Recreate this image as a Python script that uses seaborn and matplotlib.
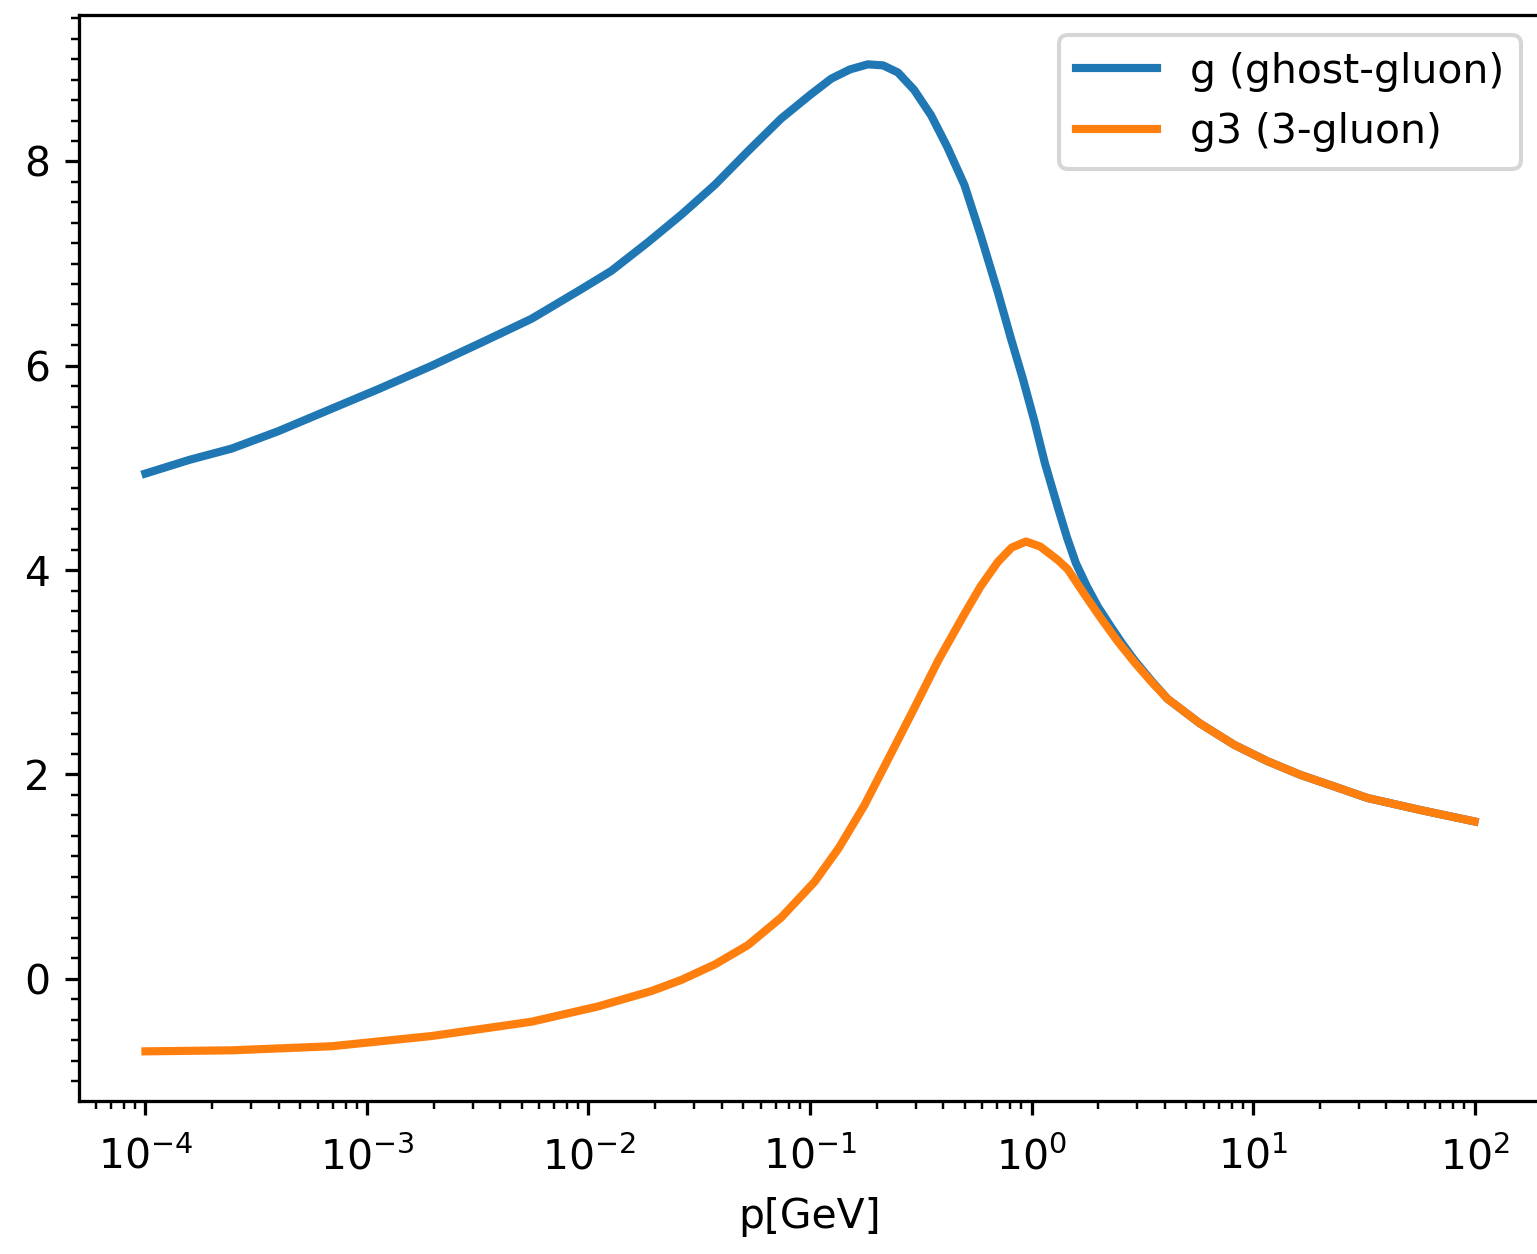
import numpy as np
import pandas as pd
import matplotlib
matplotlib.use("Agg")
import matplotlib.pyplot as plt
from matplotlib.ticker import AutoMinorLocator
import seaborn as sns

# ---- data (p in GeV, given as log10 exponents) ----
log_p_ghost = [-4.0, -3.8, -3.61, -3.4, -3.159, -2.95, -2.708, -2.5, -2.257, -2.032,
               -1.896, -1.731, -1.58, -1.43, -1.28, -1.13, -1.0, -0.904, -0.82, -0.739,
               -0.67, -0.603, -0.53, -0.453, -0.38, -0.303, -0.23, -0.152, -0.092, -0.04,
               0.014, 0.06, 0.118, 0.16, 0.2, 0.25, 0.30, 0.36, 0.41, 0.464,
               0.54, 0.614, 0.76, 0.915, 1.065, 1.215, 1.37, 1.516, 1.76, 2.0]
g_ghost = [4.945, 5.08, 5.19, 5.36, 5.58, 5.77, 6.00, 6.21, 6.46, 6.75,
           6.93, 7.21, 7.48, 7.77, 8.10, 8.42, 8.65, 8.81, 8.90, 8.95,
           8.94, 8.87, 8.70, 8.45, 8.14, 7.77, 7.28, 6.72, 6.26, 5.88,
           5.45, 5.05, 4.62, 4.32, 4.07, 3.84, 3.64, 3.44, 3.28, 3.12,
           2.92, 2.74, 2.50, 2.29, 2.13, 1.995, 1.88, 1.77, 1.65, 1.54]

log_p_3g = [-4.0, -3.61, -3.159, -2.708, -2.257, -1.956, -1.716, -1.58, -1.43, -1.28,
            -1.13, -0.979, -0.87, -0.754, -0.64, -0.529, -0.42, -0.303, -0.23, -0.152,
            -0.09, -0.025, 0.04, 0.118, 0.163, 0.24, 0.313, 0.39, 0.464, 0.54,
            0.614, 0.76, 0.915, 1.065, 1.215, 1.37, 1.516, 1.76, 2.0]
g_3g = [-0.71, -0.70, -0.66, -0.56, -0.42, -0.27, -0.12, -0.01, 0.14, 0.33,
        0.60, 0.95, 1.28, 1.70, 2.18, 2.65, 3.12, 3.57, 3.84, 4.08,
        4.22, 4.28, 4.23, 4.10, 4.01, 3.76, 3.53, 3.30, 3.10, 2.91,
        2.74, 2.50, 2.29, 2.13, 1.995, 1.88, 1.77, 1.65, 1.54]

labels = ["g (ghost-gluon)", "g3 (3-gluon)"]
colors = ["#1f77b4", "#ff7f0e"]

W, H, DPI = 1537, 1254, 294
fig = plt.figure(figsize=(W / DPI, H / DPI), dpi=DPI)
ax = fig.add_axes([79 / W, (H - 1100.7) / H, 1462 / W, 1085.7 / H])

df1 = pd.DataFrame({"p": 10.0 ** np.array(log_p_ghost), "g": g_ghost})
df2 = pd.DataFrame({"p": 10.0 ** np.array(log_p_3g), "g": g_3g})
sns.lineplot(data=df1, x="p", y="g", ax=ax, color=colors[0], lw=2, label=labels[0], sort=False)
sns.lineplot(data=df2, x="p", y="g", ax=ax, color=colors[1], lw=2, label=labels[1], sort=False)

ax.set_xscale("log")
ax.margins(x=0.05, y=0.05)
ax.set_xlabel("p[GeV]", labelpad=4.5)
ax.set_ylabel("")
ax.set_yticks([0, 2, 4, 6, 8])
ax.yaxis.set_minor_locator(AutoMinorLocator(10))
ax.tick_params(axis="x", which="major", pad=5.5)
ax.legend(loc="upper right")

fig.savefig("out.png", dpi=DPI)
